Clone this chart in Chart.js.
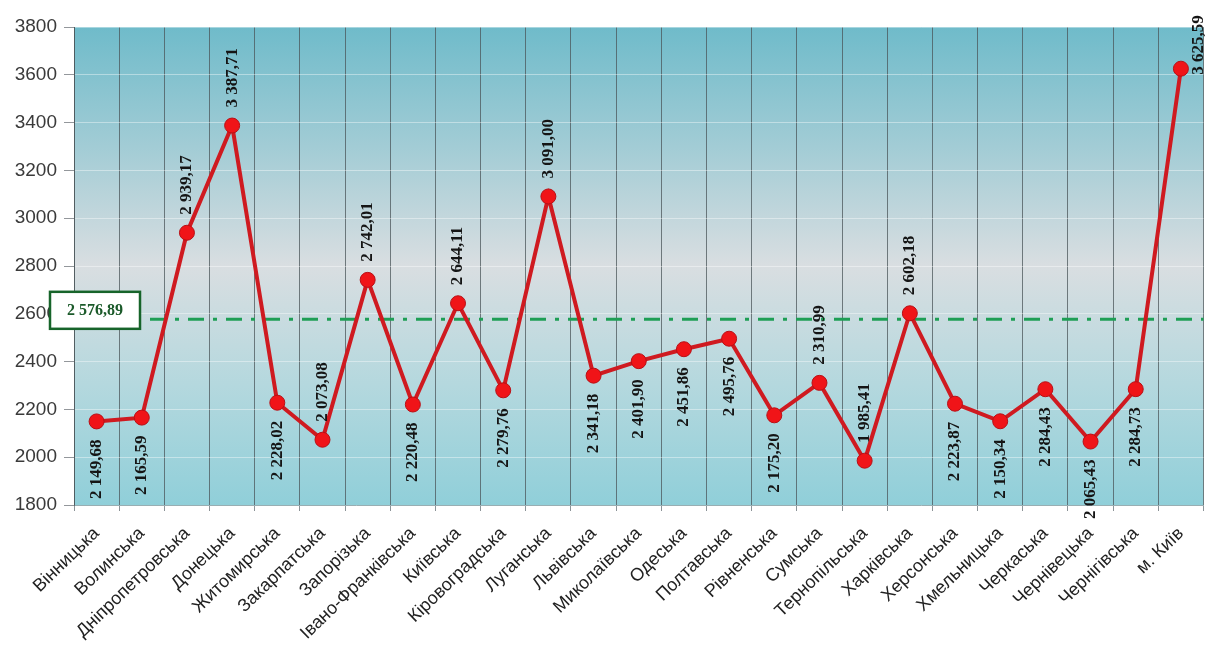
<!DOCTYPE html>
<html>
<head>
<meta charset="utf-8">
<script src="https://cdn.jsdelivr.net/npm/chart.js@4.4.1/dist/chart.umd.min.js"></script>
<style>
  html, body { margin: 0; padding: 0; background: #ffffff; }
  #wrap { width: 1212px; height: 657px; position: relative; }
</style>
</head>
<body>
<div id="wrap"><canvas id="chart"></canvas></div>
<script>
// Regions of Ukraine
const regions = [
  'Вінницька', 'Волинська', 'Дніпропетровська', 'Донецька', 'Житомирська',
  'Закарпатська', 'Запорізька', 'Івано-Франківська', 'Київська', 'Кіровоградська',
  'Луганська', 'Львівська', 'Миколаївська', 'Одеська', 'Полтавська',
  'Рівненська', 'Сумська', 'Тернопільська', 'Харківська', 'Херсонська',
  'Хмельницька', 'Черкаська', 'Чернівецька', 'Чернігівська', 'м. Київ'
];

// Value per region
const values = [
  2149.68, 2165.59, 2939.17, 3387.71, 2228.02,
  2073.08, 2742.01, 2220.48, 2644.11, 2279.76,
  3091.00, 2341.18, 2401.90, 2451.86, 2495.76,
  2175.20, 2310.99, 1985.41, 2602.18, 2223.87,
  2150.34, 2284.43, 2065.43, 2284.73, 3625.59
];

// Where each value label sits relative to its point
const labelSide = [
  'below', 'below', 'above', 'above', 'below',
  'above', 'above', 'below', 'above', 'below',
  'above', 'below', 'below', 'below', 'below',
  'below', 'above', 'above', 'above', 'below',
  'below', 'below', 'below', 'below', 'right'
];

// Reference level
const averageValue = 2576.89;

// Value axis
const yMin = 1800;
const yMax = 3800;
const yStep = 200;

function formatUa(v) {
  const [intPart, dec] = v.toFixed(2).split('.');
  const grouped = intPart.replace(/\B(?=(\d{3})+(?!\d))/g, ' ');
  return grouped + ',' + dec;
}

const plotBackground = {
  id: 'plotBackground',
  beforeDraw(chart) {
    const { ctx, chartArea: a } = chart;
    const g = ctx.createLinearGradient(0, a.top, 0, a.bottom);
    g.addColorStop(0.0, '#6fbbca');
    g.addColorStop(0.25, '#a2ccd5');
    g.addColorStop(0.5, '#d9dee1');
    g.addColorStop(0.75, '#b4d8de');
    g.addColorStop(1.0, '#90cfd9');
    ctx.save();
    ctx.fillStyle = g;
    ctx.fillRect(a.left, a.top, a.right - a.left, a.bottom - a.top);
    ctx.restore();
  }
};

const averageLine = {
  id: 'averageLine',
  beforeDatasetsDraw(chart) {
    const { ctx, chartArea: a, scales } = chart;
    const y = scales.y.getPixelForValue(averageValue);
    ctx.save();
    ctx.strokeStyle = '#1e9e55';
    ctx.lineWidth = 3;
    ctx.setLineDash([16, 9, 4, 9]);
    ctx.beginPath();
    ctx.moveTo(a.left, y);
    ctx.lineTo(a.right, y);
    ctx.stroke();
    ctx.setLineDash([]);

    // boxed caption at the left end of the line
    const bx = 50, bw = 90, bh = 37;
    const by = y - 9 - bh / 2;
    ctx.fillStyle = '#ffffff';
    ctx.fillRect(bx, by, bw, bh);
    ctx.strokeStyle = '#17642a';
    ctx.lineWidth = 2.5;
    ctx.strokeRect(bx, by, bw, bh);
    ctx.fillStyle = '#1b5a2a';
    ctx.font = 'bold 16px "Liberation Serif", serif';
    ctx.textAlign = 'center';
    ctx.textBaseline = 'middle';
    ctx.fillText(formatUa(averageValue), bx + bw / 2, by + bh / 2 + 1);
    ctx.restore();
  }
};

const valueLabels = {
  id: 'valueLabels',
  afterDatasetsDraw(chart) {
    const { ctx } = chart;
    const meta = chart.getDatasetMeta(0);
    ctx.save();
    ctx.fillStyle = '#151515';
    ctx.font = 'bold 17px "Liberation Serif", serif';
    ctx.textBaseline = 'middle';
    meta.data.forEach((pt, i) => {
      const text = formatUa(values[i]);
      const side = labelSide[i];
      ctx.save();
      if (side === 'above') {
        ctx.translate(pt.x, pt.y - 18);
        ctx.rotate(-Math.PI / 2);
        ctx.textAlign = 'left';
      } else if (side === 'below') {
        ctx.translate(pt.x, pt.y + 18);
        ctx.rotate(-Math.PI / 2);
        ctx.textAlign = 'right';
      } else {
        ctx.translate(pt.x + 18, pt.y + 6);
        ctx.rotate(-Math.PI / 2);
        ctx.textAlign = 'left';
      }
      ctx.fillText(text, 0, 0);
      ctx.restore();
    });
    ctx.restore();
  }
};

const yTicks = [];
for (let v = yMin; v <= yMax; v += yStep) yTicks.push(v);

new Chart(document.getElementById('chart'), {
  type: 'line',
  data: {
    labels: regions,
    datasets: [{
      data: values,
      borderColor: '#cf1a20',
      borderWidth: 4,
      pointRadius: 7.5,
      pointHoverRadius: 7.5,
      pointBackgroundColor: '#f01418',
      pointBorderColor: '#b81016',
      pointBorderWidth: 1,
      tension: 0,
      fill: false,
      clip: false
    }]
  },
  options: {
    responsive: true,
    maintainAspectRatio: false,
    animation: false,
    events: [],
    layout: { padding: { top: 27, right: 5, left: 0, bottom: 0 } },
    plugins: {
      legend: { display: false },
      tooltip: { enabled: false }
    },
    scales: {
      x: {
        type: 'category',
        offset: true,
        grid: {
          offset: true,
          display: true,
          color: 'rgba(75,85,90,0.75)',
          lineWidth: 1,
          drawTicks: true,
          tickLength: 6,
          tickColor: 'rgba(110,120,125,0.8)'
        },
        border: { display: true, color: 'rgba(110,140,145,0.7)' },
        ticks: {
          autoSkip: false,
          maxRotation: 44,
          minRotation: 44,
          padding: 12,
          color: '#222222',
          font: { family: '"Liberation Sans", Arial, sans-serif', size: 18 }
        },
        afterFit(scale) { scale.height = 152; }
      },
      y: {
        min: yMin,
        max: yMax,
        afterBuildTicks(scale) { scale.ticks = yTicks.map(v => ({ value: v })); },
        grid: {
          color: 'rgba(255,255,255,0.4)',
          lineWidth: 1,
          drawTicks: true,
          tickLength: 10,
          tickColor: 'rgba(120,125,130,0.8)'
        },
        border: { display: true, color: 'rgba(75,85,90,0.75)' },
        ticks: {
          padding: 7,
          color: '#3a3a3a',
          font: { family: '"Liberation Sans", Arial, sans-serif', size: 19 },
          callback: v => String(v)
        },
        afterFit(scale) { scale.width = 74; }
      }
    }
  },
  plugins: [plotBackground, averageLine, valueLabels]
});
</script>
</body>
</html>
